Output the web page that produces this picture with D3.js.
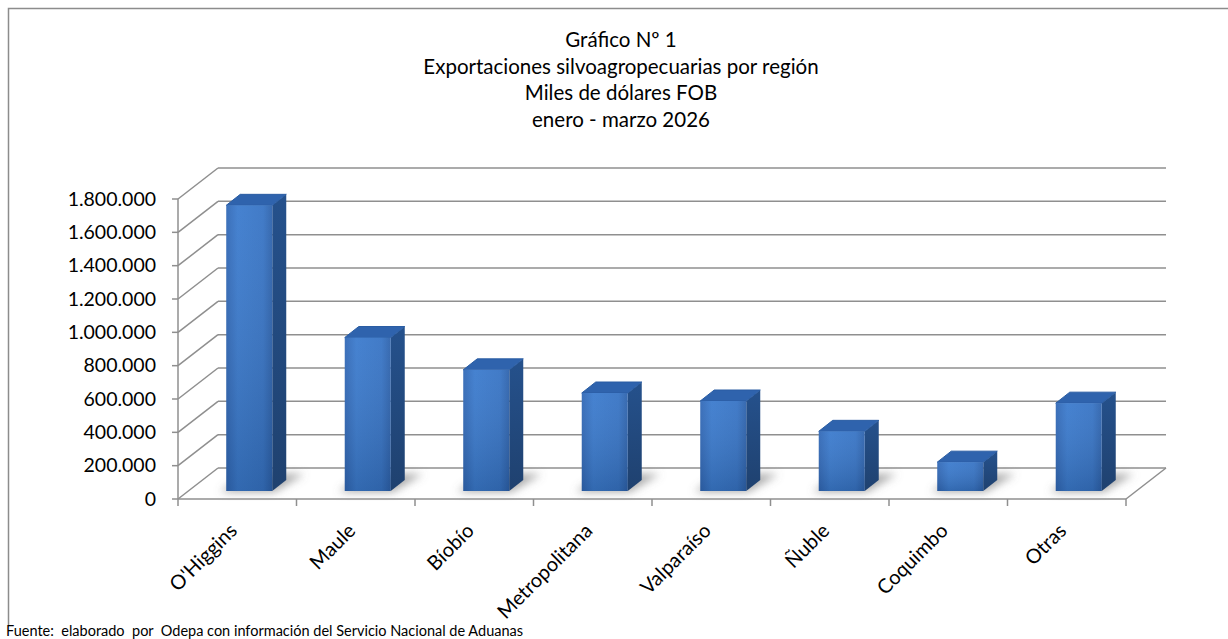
<!DOCTYPE html>
<html>
<head>
<meta charset="utf-8">
<script src="https://cdn.jsdelivr.net/npm/d3@7"></script>
<style>
  body { margin: 0; background: #fff; }
  svg text { font-family: Lato, "Open Sans", sans-serif; fill: #000; }
</style>
</head>
<body>
<div id="chart"></div>
<script>
// Data
const regions = ["O'Higgins", "Maule", "Bíobío", "Metropolitana", "Valparaíso", "Ñuble", "Coquimbo", "Otras"];
const exportsFob = [1714000, 921000, 727000, 588000, 540000, 358000, 173000, 527000];
const yTicks = [0, 200000, 400000, 600000, 800000, 1000000, 1200000, 1400000, 1600000, 1800000];
const titleLines = ["Gráfico Nº 1", "Exportaciones silvoagropecuarias por región", "Miles de dólares FOB", "enero - marzo 2026"];
const sourceNote = "Fuente:  elaborado  por  Odepa con información del Servicio Nacional de Aduanas";

const W = 1228, H = 639;
const plot = {left: 178, right: 1126, bottom: 499, top: 199};
const depth = {dx: 40, dy: -31};       // floor / wall depth
const barShift = {dx: 12, dy: -8};     // bar front face offset into the floor
const barDepth = {dx: 14, dy: -11};    // bar thickness

const svg = d3.select("#chart").append("svg")
  .attr("width", W).attr("height", H);

const defs = svg.append("defs");
const gFront = defs.append("linearGradient").attr("id", "front")
  .attr("x1", 0).attr("y1", 0).attr("x2", 1).attr("y2", 0);
gFront.append("stop").attr("offset", "0%").attr("stop-color", "#3067b5");
gFront.append("stop").attr("offset", "25%").attr("stop-color", "#3a7acd");
gFront.append("stop").attr("offset", "80%").attr("stop-color", "#3673c4");
gFront.append("stop").attr("offset", "100%").attr("stop-color", "#2c61ab");
const gShade = defs.append("linearGradient").attr("id", "shade")
  .attr("x1", 0).attr("y1", 0).attr("x2", 0).attr("y2", 1);
gShade.append("stop").attr("offset", "0%").attr("stop-color", "#fff").attr("stop-opacity", 0.06);
gShade.append("stop").attr("offset", "100%").attr("stop-color", "#000").attr("stop-opacity", 0.14);
const gSide = defs.append("linearGradient").attr("id", "side")
  .attr("x1", 0).attr("y1", 0).attr("x2", 0).attr("y2", 1);
gSide.append("stop").attr("offset", "0%").attr("stop-color", "#25518c");
gSide.append("stop").attr("offset", "100%").attr("stop-color", "#1f416f");
defs.append("filter").attr("id", "blur")
  .attr("x", "-50%").attr("y", "-50%").attr("width", "200%").attr("height", "200%")
  .append("feGaussianBlur").attr("stdDeviation", 4);

// Chart border (cropped on right and bottom)
svg.append("path")
  .attr("d", `M8.5,625 L8.5,8.5 L${W},8.5`)
  .attr("fill", "none").attr("stroke", "#8c8c8c").attr("stroke-width", 1.5);

// Title
svg.append("g").selectAll("text")
  .data(titleLines).join("text")
  .attr("x", 621).attr("y", (d, i) => 47 + i * 26.5)
  .attr("text-anchor", "middle")
  .style("font-size", "20.5px")
  .text(d => d);

// Scales
const x = d3.scaleBand().domain(regions).range([plot.left, plot.right]);
const y = d3.scaleLinear().domain([0, 1800000]).range([plot.bottom, plot.top]);

const grid = svg.append("g").attr("stroke", "#8f8f8f").attr("stroke-width", 1.5).attr("fill", "none");

// Back wall gridlines + left wall diagonals
grid.selectAll(".back").data(yTicks).join("line")
  .attr("x1", plot.left + depth.dx).attr("x2", plot.right + depth.dx)
  .attr("y1", d => y(d) + depth.dy).attr("y2", d => y(d) + depth.dy);
grid.selectAll(".side").data(yTicks).join("line")
  .attr("x1", plot.left).attr("x2", plot.left + depth.dx)
  .attr("y1", d => y(d)).attr("y2", d => y(d) + depth.dy);
// floor right edge
grid.append("line")
  .attr("x1", plot.right).attr("y1", plot.bottom)
  .attr("x2", plot.right + depth.dx).attr("y2", plot.bottom + depth.dy);

// Bar shadows on the floor
const shadows = svg.append("g").attr("filter", "url(#blur)");
regions.forEach((r, i) => {
  const cx = x(r) + x.bandwidth() / 2;
  const x0 = cx + barShift.dx - 23;
  const yb = plot.bottom + barShift.dy;
  shadows.append("path")
    .attr("d", `M${x0 - 6},${yb + 1} L${x0 + 48},${yb + 1} L${x0 + 78},${yb - 17} L${x0 + 20},${yb - 17} Z`)
    .attr("fill", "#707070").attr("opacity", 0.6);
});

// Bars
const bars = svg.append("g").selectAll("g")
  .data(regions.map((r, i) => ({region: r, value: exportsFob[i]})))
  .join("g");

const bw = 46;
const fx = d => x(d.region) + x.bandwidth() / 2 + barShift.dx - bw / 2;
const fyTop = d => y(d.value) + barShift.dy;
const fyBot = () => y(0) + barShift.dy;

// side face
bars.append("path")
  .attr("fill", "url(#side)")
  .attr("d", d => {
    const xr = fx(d) + bw;
    return `M${xr},${fyBot()} L${xr},${fyTop(d)} L${xr + barDepth.dx},${fyTop(d) + barDepth.dy}` +
      ` L${xr + barDepth.dx},${fyBot() + barDepth.dy} Z`;
  });
// top face
bars.append("path")
  .attr("fill", "#2f63ad")
  .attr("stroke", "#2a5da3").attr("stroke-width", 1).attr("stroke-linejoin", "round")
  .attr("d", d => {
    const x0 = fx(d), yt = fyTop(d);
    return `M${x0},${yt} L${x0 + bw},${yt} L${x0 + bw + barDepth.dx},${yt + barDepth.dy}` +
      ` L${x0 + barDepth.dx},${yt + barDepth.dy} Z`;
  });
// front face
bars.append("rect")
  .attr("x", fx).attr("y", fyTop)
  .attr("width", bw).attr("height", d => fyBot() - fyTop(d))
  .attr("fill", "url(#front)");
bars.append("rect")
  .attr("x", fx).attr("y", fyTop)
  .attr("width", bw).attr("height", d => fyBot() - fyTop(d))
  .attr("fill", "url(#shade)");

// Front axes
const axes = svg.append("g").attr("stroke", "#8f8f8f").attr("stroke-width", 1.5).attr("fill", "none");
axes.append("line")
  .attr("x1", plot.left).attr("x2", plot.left)
  .attr("y1", y(0)).attr("y2", y(1800000));
axes.append("line")
  .attr("x1", plot.left).attr("x2", plot.right)
  .attr("y1", y(0)).attr("y2", y(0));
axes.selectAll(".yt").data(yTicks).join("line")
  .attr("x1", plot.left - 6).attr("x2", plot.left)
  .attr("y1", d => y(d)).attr("y2", d => y(d));
axes.selectAll(".xt").data(d3.range(regions.length + 1)).join("line")
  .attr("x1", i => plot.left + i * x.step()).attr("x2", i => plot.left + i * x.step())
  .attr("y1", y(0)).attr("y2", y(0) + 7);

// Y tick labels
const fmt = v => d3.format(",")(v).replace(/,/g, ".");
svg.append("g").selectAll("text")
  .data(yTicks).join("text")
  .attr("x", 156).attr("y", d => y(d))
  .attr("dy", "0.35em")
  .attr("text-anchor", "end")
  .style("font-size", "19.5px")
  .text(fmt);

// Category labels
svg.append("g").selectAll("text")
  .data(regions).join("text")
  .attr("text-anchor", "end")
  .attr("transform", d => `translate(${x(d) + x.bandwidth() / 2 + 1},${y(0) + 33}) rotate(-45)`)
  .style("font-size", "20px")
  .text(d => d);

// Source note
svg.append("text")
  .attr("x", 6).attr("y", 636)
  .style("font-size", "14.5px")
  .style("white-space", "pre")
  .text(sourceNote);
</script>
</body>
</html>
